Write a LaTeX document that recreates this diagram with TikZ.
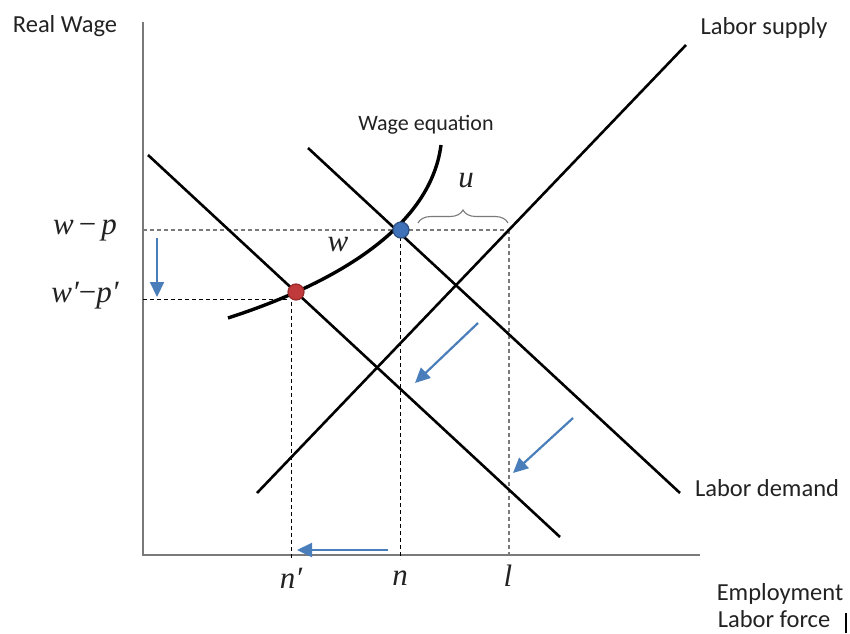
\documentclass[tikz,border=0pt]{standalone}
\usepackage{fontspec}
\setmainfont{Carlito}
\newfontfamily\tms{Liberation Serif}
\usetikzlibrary{arrows.meta,decorations.pathreplacing}
\definecolor{axisgray}{HTML}{7A7A7A}
\definecolor{arrblue}{HTML}{4A7EBB}
\definecolor{dotred}{HTML}{C0393B}
\definecolor{dotredd}{HTML}{9A2A2A}
\definecolor{dotblue}{HTML}{3F72B8}
\definecolor{txt}{HTML}{222222}
\begin{document}
\begin{tikzpicture}[x=1pt,y=1pt,
  axisline/.style={draw=axisgray,line width=1.6pt},
  mainline/.style={draw=black,line width=2.6pt},
  curveline/.style={draw=black,line width=3.4pt},
  guidek/.style={draw=black,line width=1pt,dash pattern=on 4pt off 3pt},
  guideg/.style={draw=axisgray,line width=1.3pt,dash pattern=on 4pt off 3pt},
  shiftarrow/.style={draw=arrblue,line width=2.2pt,-{Triangle[length=15pt,width=14pt]}},
  lbl/.style={font=\fontsize{24.5}{28}\selectfont,text=txt,inner sep=0pt,anchor=base},
  mlbl/.style={font=\fontsize{31}{34}\selectfont\tms\itshape,text=txt,inner sep=0pt},
  dot/.style={circle,minimum size=16pt,inner sep=0pt,line width=1.2pt}]
\useasboundingbox (0,0) rectangle (850,633);
% coordinates
\coordinate (O) at (143,78);
\coordinate (Ytop) at (143,611);
\coordinate (Xend) at (700,78);
\coordinate (S1) at (257,140);
\coordinate (S2) at (686,588);
\coordinate (D1) at (308,485);
\coordinate (D2) at (680,140);
\coordinate (E1) at (148,478);
\coordinate (E2) at (560,96);
\coordinate (C0) at (228,315);
\coordinate (C3) at (441,488);
% axes
\draw[axisline] (Ytop) -- (O) -- (Xend);
% guides
\coordinate (WP0) at (143,403);
\coordinate (WPl) at (509,403);
\coordinate (Wq0) at (143,334);
\coordinate (Wq1) at (288,334);
\coordinate (Nq0) at (291,331);
\coordinate (Nq1) at (291,74);
\coordinate (N0) at (400,403);
\coordinate (N1) at (400,74);
\coordinate (L1) at (509,74);
\draw[guideg] (WP0) -- (WPl);
\draw[guidek] (Wq0) -- (Wq1);
\draw[guidek] (Nq0) -- (Nq1);
\draw[guidek] (N0) -- (N1);
\draw[guideg] (WPl) -- (L1);
% lines
\draw[mainline] (S1) -- (S2);
\draw[mainline] (D1) -- (D2);
\draw[mainline] (E1) -- (E2);
\draw[curveline] (C0) .. controls (330,348) and (430,403) .. (C3);
% dots
\node[dot,fill=dotred,draw=dotredd] (red) at (296,341) {};
\node[dot,fill=dotblue,draw=dotblue!70!black] (blue) at (401,403) {};
% brace
\coordinate (B1) at (418,410);
\coordinate (B2) at (508,410);
\draw[axisgray,line width=1.1pt,decorate,decoration={brace,amplitude=13pt}] (B1) -- (B2);
% shift arrows
\coordinate (A1s) at (157,395); \coordinate (A1e) at (157,336);
\coordinate (A2s) at (478,310); \coordinate (A2e) at (415,250);
\coordinate (A3s) at (573,215); \coordinate (A3e) at (513,160);
\coordinate (A4s) at (388,83);  \coordinate (A4e) at (297,83);
\draw[shiftarrow] (A1s) -- (A1e);
\draw[shiftarrow] (A2s) -- (A2e);
\draw[shiftarrow] (A3s) -- (A3e);
\draw[shiftarrow] (A4s) -- (A4e);
% labels
\node[lbl] (rw) at (65,600) {Real Wage};
\node[lbl] (ls) at (764,598) {Labor supply};
\node[lbl] (ld) at (767,137) {Labor demand};
\node[lbl] (emp) at (780,33) {Employment};
\node[lbl] (lf) at (774,6) {Labor force};
\node[lbl,font=\fontsize{22}{26}\selectfont] (we) at (426,502) {Wage equation};
\node[mlbl] (lwp) at (85,403) {w\,\upshape−\,\itshape p};
\node[mlbl] (lwpq) at (85,337) {w′\upshape−\itshape p′};
\node[mlbl] (lu) at (466,452) {u};
\node[mlbl] (lw) at (338,388) {w};
\node[mlbl] (lnq) at (291,55) {n′};
\node[mlbl] (ln) at (400,55) {n};
\node[mlbl] (ll) at (508,57) {l};
% cursor bar
\coordinate (bar1) at (846,0); \coordinate (bar2) at (846,20);
\draw[line width=1.5pt] (bar1) -- (bar2);
\end{tikzpicture}
\end{document}
